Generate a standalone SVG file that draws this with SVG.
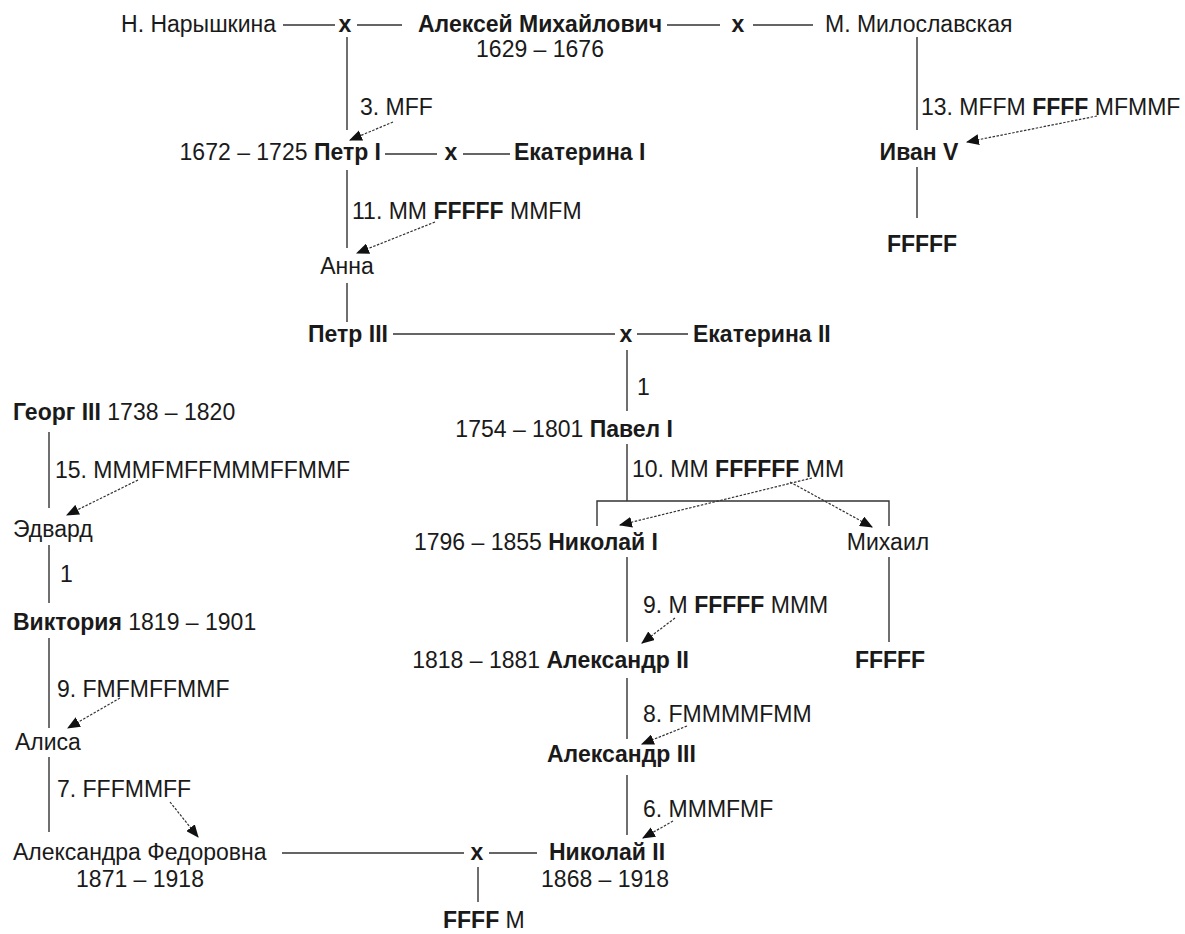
<svg xmlns="http://www.w3.org/2000/svg" width="1185" height="934" viewBox="0 0 1185 934">
<defs>
<style>
text{font-family:"Liberation Sans",Arial,sans-serif;font-size:23px;fill:#1a1a1a}
.b{font-weight:bold}
.m{text-anchor:middle}
.e{text-anchor:end}
.ln{stroke:#333;stroke-width:1.4;fill:none}
.ar{stroke:#333;stroke-width:1.2;stroke-dasharray:2.5 1.5;fill:none;marker-end:url(#ah)}
</style>
<marker id="ah" viewBox="0 0 12 10" refX="11" refY="5" markerWidth="13" markerHeight="11" markerUnits="userSpaceOnUse" orient="auto">
<path d="M0,0 L12,5 L0,10 z" fill="#111"/>
</marker>
</defs>
<rect width="1185" height="934" fill="#fff"/>
<g id="connectors">
<path class="ln" d="M283,25H335M357,25H402M667,25H720M753,25H813"/>
<path class="ln" d="M347,37V130M917,37V130"/>
<path class="ln" d="M385,154H437M463,154H510"/>
<path class="ln" d="M347,170V248M347,283V322M917,167V218"/>
<path class="ln" d="M393,334H615M637,334H688M627,350V411"/>
<path class="ln" d="M627,444V501M597,526V501H889V526"/>
<path class="ln" d="M627,557V642M889,557V642M627,678V739M627,775V835"/>
<path class="ln" d="M49,432V508M49,545V603M49,638V728M49,757V832"/>
<path class="ln" d="M282,853H464M489,853H537M478,867V902"/>
<line class="ar" x1="393" y1="122" x2="350" y2="140"/>
<line class="ar" x1="1097" y1="116" x2="967" y2="142"/>
<line class="ar" x1="435" y1="222" x2="357" y2="253"/>
<line class="ar" x1="812" y1="478" x2="620" y2="525"/>
<line class="ar" x1="790" y1="482" x2="872" y2="527"/>
<line class="ar" x1="675" y1="618" x2="642" y2="643"/>
<line class="ar" x1="687" y1="726" x2="642" y2="744"/>
<line class="ar" x1="673" y1="821" x2="643" y2="838"/>
<line class="ar" x1="138" y1="480" x2="67" y2="515"/>
<line class="ar" x1="120" y1="698" x2="68" y2="728"/>
<line class="ar" x1="170" y1="802" x2="198" y2="837"/>
</g>
<g id="naryshkina"><text class="e" x="276" y="32">Н. Нарышкина</text></g>
<g id="marriage1"><text class="b m" x="345" y="32">x</text></g>
<g id="aleksei"><text class="b m" x="540" y="32">Алексей Михайлович</text><text class="m" x="540" y="57">1629 – 1676</text></g>
<g id="marriage2"><text class="b m" x="738" y="32">x</text></g>
<g id="miloslavskaya"><text x="825" y="32">М. Милославская</text></g>
<g id="label3"><text x="360" y="115">3. MFF</text></g>
<g id="petr1"><text class="e" x="381" y="160">1672 – 1725 <tspan class="b">Петр I</tspan></text></g>
<g id="marriage3"><text class="b m" x="451" y="160">x</text></g>
<g id="ekaterina1"><text class="b" x="514" y="160">Екатерина I</text></g>
<g id="label13"><text x="921" y="115">13. MFFM <tspan class="b">FFFF</tspan> MFMMF</text></g>
<g id="ivan5"><text class="b m" x="919" y="160">Иван V</text></g>
<g id="ivanChildren"><text class="b m" x="922" y="252">FFFFF</text></g>
<g id="label11"><text x="352" y="219">11. MM <tspan class="b">FFFFF</tspan> MMFM</text></g>
<g id="anna"><text class="m" x="347" y="274">Анна</text></g>
<g id="petr3"><text class="b m" x="348" y="342">Петр III</text></g>
<g id="marriage4"><text class="b m" x="626" y="342">x</text></g>
<g id="ekaterina2"><text class="b" x="693" y="342">Екатерина II</text></g>
<g id="label1a"><text x="637" y="395">1</text></g>
<g id="pavel1"><text class="e" x="673" y="437">1754 – 1801 <tspan class="b">Павел I</tspan></text></g>
<g id="label10"><text x="632" y="477">10. MM <tspan class="b">FFFFFF</tspan> MM</text></g>
<g id="nikolai1"><text class="e" x="658" y="550">1796 – 1855 <tspan class="b">Николай I</tspan></text></g>
<g id="mikhail"><text class="m" x="888" y="550">Михаил</text></g>
<g id="label9a"><text x="643" y="613">9. M <tspan class="b">FFFFF</tspan> MMM</text></g>
<g id="aleksandr2"><text class="e" x="689" y="668">1818 – 1881 <tspan class="b">Александр II</tspan></text></g>
<g id="mikhailChildren"><text class="b m" x="890" y="668">FFFFF</text></g>
<g id="label8"><text x="643" y="722">8. FMMMMFMM</text></g>
<g id="aleksandr3"><text class="b" x="547" y="762">Александр III</text></g>
<g id="label6"><text x="643" y="817">6. MMMFMF</text></g>
<g id="nikolai2"><text class="b" x="549" y="860">Николай II</text><text class="m" x="605" y="887">1868 – 1918</text></g>
<g id="marriage5"><text class="b m" x="477" y="860">x</text></g>
<g id="aleksandra"><text x="13" y="860">Александра Федоровна</text><text class="m" x="140" y="887">1871 – 1918</text></g>
<g id="nikolai2Children"><text x="443" y="928"><tspan class="b">FFFF</tspan> M</text></g>
<g id="georg3"><text x="13" y="420"><tspan class="b">Георг III</tspan> 1738 – 1820</text></g>
<g id="label15"><text x="55" y="478">15. MMMFMFFMMMFFMMF</text></g>
<g id="edvard"><text x="13" y="537">Эдвард</text></g>
<g id="label1b"><text x="60" y="582">1</text></g>
<g id="victoria"><text x="13" y="630"><tspan class="b">Виктория</tspan> 1819 – 1901</text></g>
<g id="label9b"><text x="57" y="697">9. FMFMFFMMF</text></g>
<g id="alisa"><text x="15" y="750">Алиса</text></g>
<g id="label7"><text x="57" y="797">7. FFFMMFF</text></g>
</svg>
